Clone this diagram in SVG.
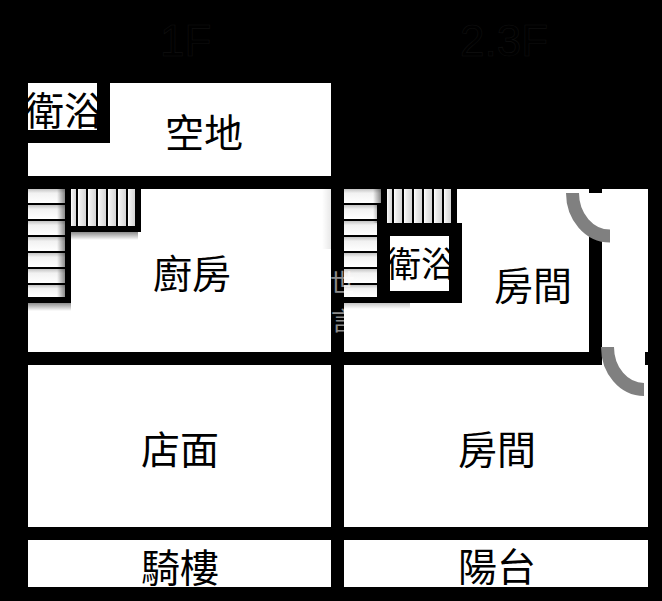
<svg xmlns="http://www.w3.org/2000/svg" width="662" height="601" viewBox="0 0 662 601">
<style>
.room{fill:#fff}
.wall{fill:#000}
.label{font-family:"Noto Sans CJK TC","Noto Sans CJK SC",sans-serif;font-size:39px;fill:#000}
.head{font-family:"Liberation Sans",sans-serif;font-size:44px;fill:#000;stroke:#101010;stroke-width:.6}
.door{fill:none;stroke:#808080;stroke-width:13}
.mark{font-family:"Noto Sans CJK TC",sans-serif;font-size:25px;fill:#fff;opacity:.55}
</style>
<defs>
<linearGradient id="stepV" x1="0" y1="0" x2="0" y2="1"><stop offset="0" stop-color="#c4c4c4"/><stop offset=".3" stop-color="#f2f2f2"/><stop offset="1" stop-color="#fff"/></linearGradient>
<linearGradient id="sideH" x1="0" y1="0" x2="1" y2="0"><stop offset="0" stop-color="#000" stop-opacity="0"/><stop offset="1" stop-color="#000" stop-opacity=".45"/></linearGradient>
<linearGradient id="stepH" x1="0" y1="0" x2="1" y2="0"><stop offset="0" stop-color="#fff"/><stop offset=".25" stop-color="#eee"/><stop offset="1" stop-color="#d4d4d4"/></linearGradient>
<linearGradient id="shadow" x1="0" y1="0" x2="0" y2="1"><stop offset="0" stop-color="#000" stop-opacity=".45"/><stop offset="1" stop-color="#000" stop-opacity="0"/></linearGradient>
<clipPath id="bath1"><rect x="28" y="83" width="69" height="47"/></clipPath>
<clipPath id="bath2"><rect x="390" y="236" width="59" height="55"/></clipPath>
</defs>
<rect class="wall" width="662" height="601"/>
<g id="title-1f"><text class="head" x="160" y="56">1F</text></g>
<g id="title-23f"><text class="head" x="460" y="56">2.3F</text></g>
<g id="room-yard">
<rect class="room" x="28" y="83" width="303" height="93"/>
<rect class="wall" x="28" y="83" width="82" height="60"/>
<text class="label" x="165" y="147">空地</text>
</g>
<g id="bath-1f">
<rect class="room" x="28" y="83" width="69" height="47"/>
<text class="label" x="25" y="125" clip-path="url(#bath1)">衛浴</text>
</g>
<g id="room-kitchen">
<rect class="room" x="28" y="189" width="303" height="163"/>
<rect x="322" y="189" width="9" height="60" fill="url(#sideH)" opacity=".2"/>
<text class="label" x="153" y="288">廚房</text>
</g>
<g id="stairs-1f">
<rect class="wall" x="28" y="189" width="43" height="114"/>
<rect class="wall" x="65" y="189" width="76" height="43"/>
<rect x="28" y="303" width="43" height="8" fill="url(#shadow)"/>
<rect x="71" y="232" width="67" height="8" fill="url(#shadow)"/>
<g fill="url(#stepV)">
<rect x="28" y="189" width="37" height="14"/><rect x="28" y="205" width="37" height="14"/><rect x="28" y="221" width="37" height="14"/><rect x="28" y="237" width="37" height="14"/><rect x="28" y="253" width="37" height="14"/><rect x="28" y="269" width="37" height="14"/><rect x="28" y="285" width="37" height="12"/>
</g>
<rect x="57" y="189" width="8" height="108" fill="url(#sideH)"/>
<g fill="url(#stepH)">
<rect x="71" y="189" width="5" height="37"/><rect x="78" y="189" width="8" height="37"/><rect x="88" y="189" width="8" height="37"/><rect x="98" y="189" width="8" height="37"/><rect x="108" y="189" width="8" height="37"/><rect x="118" y="189" width="8" height="37"/><rect x="128" y="189" width="7" height="37"/>
</g>
</g>
<g id="room-shop">
<rect class="room" x="28" y="365" width="303" height="162"/>
<text class="label" x="141" y="464">店面</text>
</g>
<g id="room-arcade">
<rect class="room" x="28" y="540" width="303" height="47"/>
<text class="label" x="141" y="582">騎樓</text>
</g>
<g id="room-upper">
<rect class="room" x="344" y="189" width="304" height="163"/>
<rect class="room" x="602" y="352" width="43" height="13"/>
<rect class="wall" x="589" y="189" width="13" height="4"/>
<rect class="wall" x="589" y="229" width="13" height="136"/>
<text class="label" x="494" y="300">房間</text>
</g>
<g id="stairs-23f">
<rect class="wall" x="344" y="189" width="43" height="114"/>
<rect class="wall" x="381" y="189" width="76" height="35"/>
<rect x="344" y="303" width="66" height="6" fill="url(#shadow)" opacity=".5"/>
<g fill="url(#stepV)">
<rect x="344" y="189" width="37" height="14"/><rect x="344" y="205" width="33" height="14"/><rect x="344" y="221" width="33" height="14"/><rect x="344" y="237" width="33" height="14"/><rect x="344" y="253" width="33" height="14"/><rect x="344" y="269" width="33" height="14"/><rect x="344" y="285" width="33" height="12"/>
</g>
<rect x="373" y="189" width="8" height="34" fill="url(#sideH)"/>
<g fill="url(#stepH)">
<rect x="387" y="189" width="5" height="34"/><rect x="394" y="189" width="8" height="34"/><rect x="404" y="189" width="8" height="34"/><rect x="414" y="189" width="8" height="34"/><rect x="424" y="189" width="8" height="34"/><rect x="434" y="189" width="8" height="34"/><rect x="444" y="189" width="7" height="34"/>
</g>
</g>
<g id="bath-23f">
<rect class="wall" x="377" y="223" width="85" height="80"/>
<rect class="room" x="390" y="236" width="59" height="55"/>
<text class="label" x="386" y="277" style="font-size:35px" clip-path="url(#bath2)">衛浴</text>
</g>
<g id="room-lower">
<rect class="room" x="344" y="365" width="304" height="162"/>
<text class="label" x="458" y="464">房間</text>
</g>
<g id="room-balcony">
<rect class="room" x="344" y="540" width="304" height="47"/>
<text class="label" x="458" y="581">陽台</text>
</g>
<g id="doors">
<path class="door" d="M572.5 193A37.5 43 0 0 0 610 236"/>
<path class="door" d="M607.5 347A36.5 42.5 0 0 0 644 389.5"/>
</g>
<g id="watermark">
<text class="mark" x="330" y="292">世</text>
<text class="mark" x="331" y="330">言</text>
</g>
</svg>
